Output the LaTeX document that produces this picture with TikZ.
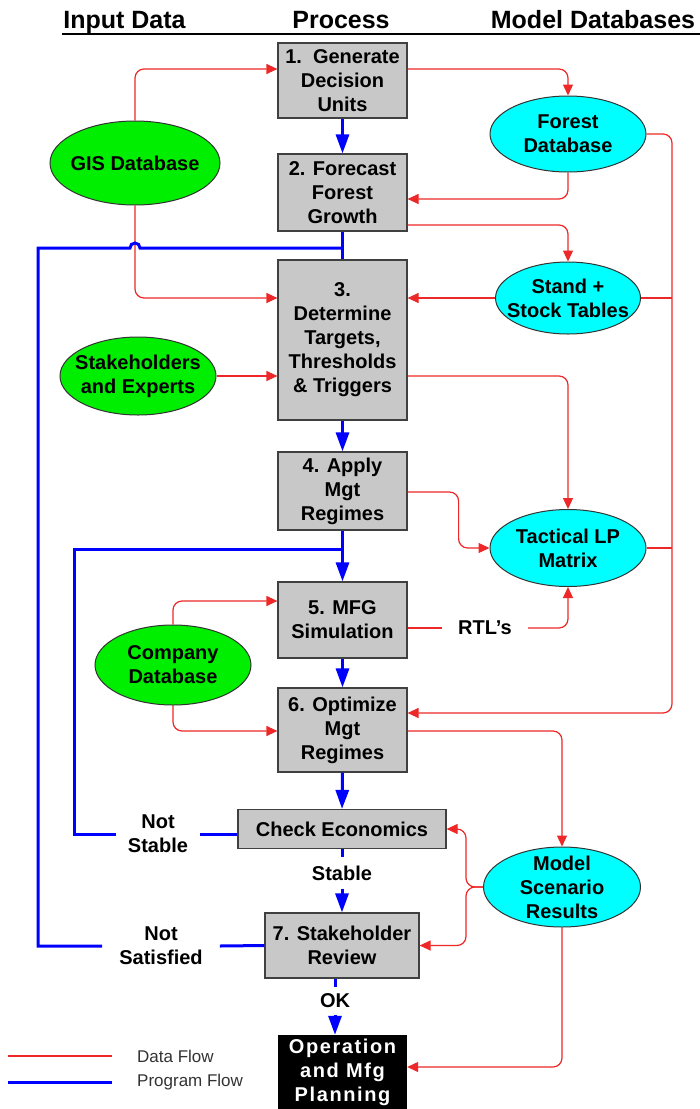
\documentclass[tikz,border=0pt]{standalone}
\usepackage{fontspec}
\setmainfont{Liberation Sans}
\usetikzlibrary{shapes.geometric,arrows.meta,calc}
\definecolor{boxgray}{RGB}{200,200,200}
\definecolor{dred}{RGB}{238,40,40}
\definecolor{pblue}{RGB}{0,0,255}
\definecolor{egreen}{RGB}{0,238,0}
\definecolor{ecyan}{RGB}{0,255,255}
\begin{document}
\begin{tikzpicture}[x=1pt,y=-1pt,
  every node/.style={font=\bfseries\fontsize{20}{24}\selectfont, align=center},
  hd/.style={font=\bfseries\fontsize{25}{30}\selectfont, anchor=base, inner sep=0pt},
  proc/.style={draw=black!75, line width=1.2pt, fill=boxgray, minimum width=129pt, inner sep=0pt},
  opbox/.style={fill=black, text=white, minimum width=129pt, minimum height=74pt, inner sep=0pt,
     font=\bfseries\fontsize{20}{24}\selectfont\addfontfeatures{LetterSpace=8}},
  ell/.style={ellipse, draw=black!80, line width=1pt, inner xsep=-25pt, inner ysep=-14pt},
  gin/.style={ell, fill=egreen},
  cdb/.style={ell, fill=ecyan},
  lbl/.style={inner ysep=2pt},
  dline/.style={draw=dred, line width=1.2pt, rounded corners=9pt},
  dflow/.style={dline, -{Triangle[length=11pt,width=10pt]}},
  pline/.style={draw=pblue, line width=3pt},
  pflow/.style={pline, -{Triangle[length=19pt,width=13pt]}},
  legtxt/.style={font=\fontsize{17}{20}\selectfont, text=black!80, anchor=west, inner sep=0pt}
]
\useasboundingbox (0,0) rectangle (700,1109);
\fill[white] (0,0) rectangle (700,1109);

% headings
\node[hd] (hin) at (124.5,28) {Input Data};
\node[hd] (hpr) at (341,28) {Process};
\node[hd] (hmd) at (593,28) {Model Databases};
\coordinate (ula) at (62,34);
\coordinate (ulb) at (700,34);
\draw[line width=2pt] (ula) -- (ulb);

% process boxes
\node[proc, minimum height=75pt] (b1) at (342.5,80.5) {1.~~Generate\\Decision\\Units};
\node[proc, minimum height=77pt] (b2) at (342.5,192.5) {2. Forecast\\Forest\\Growth};
\node[proc, minimum height=160pt] (b3) at (342.5,340) {3.\\Determine\\Targets,\\Thresholds\\\& Triggers};
\node[proc, minimum height=78pt] (b4) at (342.5,491) {4. Apply\\Mgt\\Regimes};
\node[proc, minimum height=76pt] (b5) at (342.5,620) {5. MFG\\Simulation};
\node[proc, minimum height=84pt] (b6) at (342.5,730) {6. Optimize\\Mgt\\Regimes};
\node[proc, minimum width=208pt, minimum height=39pt] (ce) at (342,829) {Check Economics};
\node[proc, minimum width=154pt, minimum height=65pt] (b7) at (342,945.5) {7. Stakeholder\\Review};
\node[opbox] (op) at (342.5,1072) {Operation\\and Mfg\\Planning};

% input ellipses
\node[gin, minimum width=170pt, minimum height=84pt] (gis) at (135,163) {GIS Database};
\node[gin, minimum width=156pt, minimum height=78pt] (stake) at (138,376) {Stakeholders\\and Experts};
\node[gin, minimum width=156pt, minimum height=80pt] (comp) at (173,665) {Company\\Database};

% model databases
\node[cdb, minimum width=156pt, minimum height=76pt] (forest) at (568,134) {Forest\\Database};
\node[cdb, minimum width=145pt, minimum height=72pt] (stand) at (568,298) {Stand +\\Stock Tables};
\node[cdb, minimum width=156pt, minimum height=77pt] (tact) at (568,548) {Tactical LP\\Matrix};
\node[cdb, minimum width=157pt, minimum height=80pt] (model) at (562,887) {Model\\Scenario\\Results};

% labels on connectors
\node[lbl, inner xsep=11.5pt] (ns) at (158,834) {Not\\Stable};
\node[lbl, inner xsep=17pt] (nsat) at (161,946) {Not\\Satisfied};
\node[inner xsep=2pt, inner ysep=8pt] (stable) at (342,873) {Stable};
\node[inner xsep=2pt, inner ysep=6.5pt] (ok) at (335,1001) {OK};
\node[inner xsep=16pt, inner ysep=2pt] (rtl) at (485,628) {RTL’s};

% helper coordinates
\coordinate (busx) at (672,0);
\coordinate (mbr) at (466,887);
\coordinate (nsx) at (74,549);
\coordinate (fbx) at (38,248);

% data flow (red)
\draw[dflow] (gis.north) |- ([yshift=11.5pt]b1.west);
\draw[dflow] (gis.south) |- ([yshift=42pt]b3.west);
\draw[dflow] ([yshift=11.5pt]b1.east) -| (forest.north);
\draw[dflow] (forest.south) |- ([yshift=-6.5pt]b2.east);
\draw[dflow] ([yshift=-32.5pt]b2.east) -| (stand.north);
\draw[dflow] (stand.west) -- (stand.west -| b3.east);
\draw[dflow] (stake.east) -- (stake.east -| b3.west);
\draw[dflow] ([yshift=-36pt]b3.east) -| (tact.north);
\draw[dflow] ([yshift=-1pt]b4.east) -- ++(51,0) |- (tact.west);
\draw[dline] ([yshift=-8pt]b5.east) -- (rtl.west);
\draw[dflow] (rtl.east) -| (tact.south);
\draw[dflow] (comp.north) |- ([yshift=19pt]b5.west);
\draw[dflow] (comp.south) |- ([yshift=-1pt]b6.west);
\draw[dflow] (forest.east) -| ([yshift=17pt]b6.east -| busx) -- ([yshift=17pt]b6.east);
\draw[dline] (stand.east) -- (stand.east -| busx);
\draw[dline] (tact.east) -- (tact.east -| busx);
\draw[dflow] ([yshift=-1pt]b6.east) -| (model.north);
\draw[dflow] (model.west) -- (mbr) |- (ce.east);
\draw[dflow] (model.west) -- (mbr) |- (b7.east);
\draw[dflow] (model.south) |- ([yshift=5pt]op.east);

% program flow (blue)
\draw[pflow] (b1.south) -- (b2.north);
\draw[pline] (b2.south) -- (b3.north);
\draw[pflow] (b3.south) -- (b4.north);
\draw[pflow] (b4.south) -- (b5.north);
\draw[pflow] (b5.south) -- (b6.north);
\draw[pflow] (b6.south) -- (ce.north);
\draw[pline] (ce.south) -- (stable.north);
\draw[pflow] (stable.south) -- (b7.north);
\draw[pline] ([xshift=-7pt]b7.south) -- (ok.north);
\draw[pflow] (ok.south) -- (ok.south |- op.north);
\draw[pline] ([yshift=-5pt]ce.west) -- (ns.east);
\draw[pline] (ns.west) -| (nsx) -- (nsx -| b4.south);
\draw[pline] (b7.west) -- (nsat.east);
\draw[pline] (nsat.west) -| (fbx) -- ([xshift=-5pt]fbx -| gis.south)
   arc[start angle=180, end angle=0, radius=5pt] -- (fbx -| b2.south);

% legend
\coordinate (la1) at (8,1056);
\coordinate (la2) at (112,1056);
\coordinate (lb1) at (8,1082);
\coordinate (lb2) at (112,1082);
\draw[draw=dred, line width=1.2pt] (la1) -- (la2);
\draw[pline] (lb1) -- (lb2);
\node[legtxt] (ld) at (137,1056) {Data Flow};
\node[legtxt] (lp) at (137,1082) {Program Flow};
\end{tikzpicture}
\end{document}
